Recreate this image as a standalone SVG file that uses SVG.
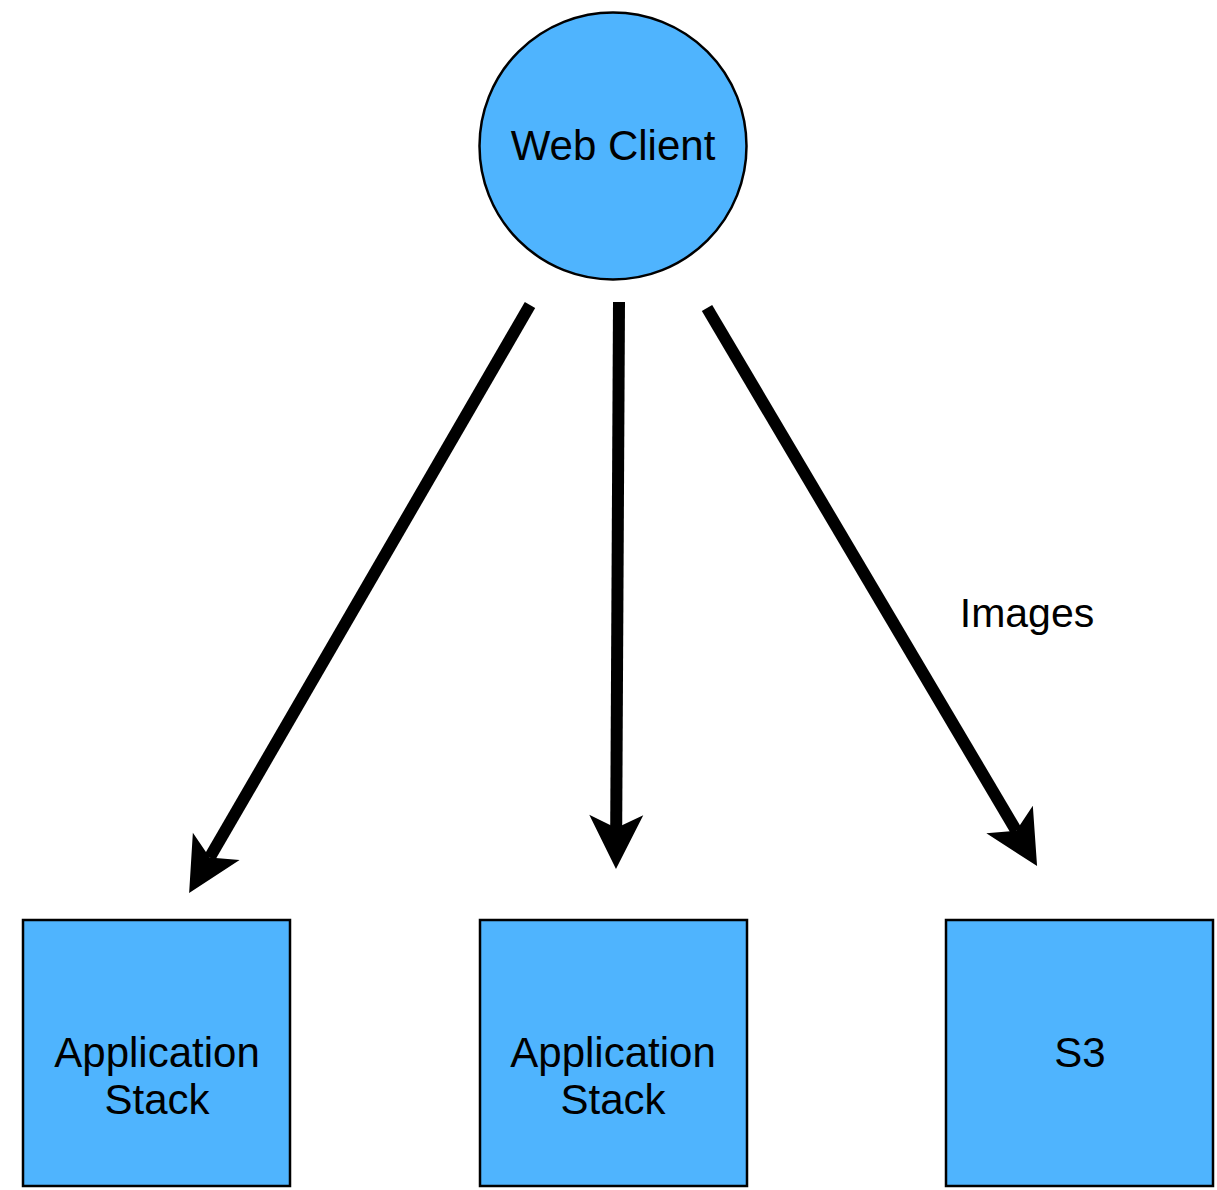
<svg xmlns="http://www.w3.org/2000/svg" width="1217" height="1190" viewBox="0 0 1217 1190">
  <style>
    .node { fill: #4FB4FE; stroke: #000; stroke-width: 2.5; }
    .lbl { font-family: "Liberation Sans", Arial, sans-serif; font-size: 42px; fill: #000; text-anchor: middle; }
    .edge { stroke: #000; stroke-width: 12; fill: none; }
  </style>
  <defs>
    <marker id="arr" viewBox="-15 -29 58 58" markerWidth="58" markerHeight="58" refX="0" refY="0" orient="auto" markerUnits="userSpaceOnUse">
      <path d="M41,0 L-13,-27 L0,0 L-13,27 Z" fill="#000"/>
    </marker>
  </defs>
  <rect width="1217" height="1190" fill="#fff"/>
  <g id="connectors">
    <line class="edge" x1="530" y1="305" x2="209.7" y2="857.6" marker-end="url(#arr)"/>
    <line class="edge" x1="619" y1="302" x2="616.2" y2="828" marker-end="url(#arr)"/>
    <line class="edge" x1="707" y1="308" x2="1016.2" y2="830.7" marker-end="url(#arr)"/>
    <text class="lbl" x="1027" y="627" font-size="41" style="font-size:41px">Images</text>
  </g>
  <g id="web-client">
    <circle class="node" cx="613" cy="146" r="133.5"/>
    <text class="lbl" x="613" y="160">Web Client</text>
  </g>
  <g id="app-stack-1">
    <rect class="node" x="23" y="920" width="267" height="266"/>
    <text class="lbl" x="157" y="1067">Application</text>
    <text class="lbl" x="157" y="1114">Stack</text>
  </g>
  <g id="app-stack-2">
    <rect class="node" x="480" y="920" width="267" height="266"/>
    <text class="lbl" x="613" y="1067">Application</text>
    <text class="lbl" x="613" y="1114">Stack</text>
  </g>
  <g id="s3">
    <rect class="node" x="946" y="920" width="267" height="266"/>
    <text class="lbl" x="1080" y="1067">S3</text>
  </g>
</svg>
